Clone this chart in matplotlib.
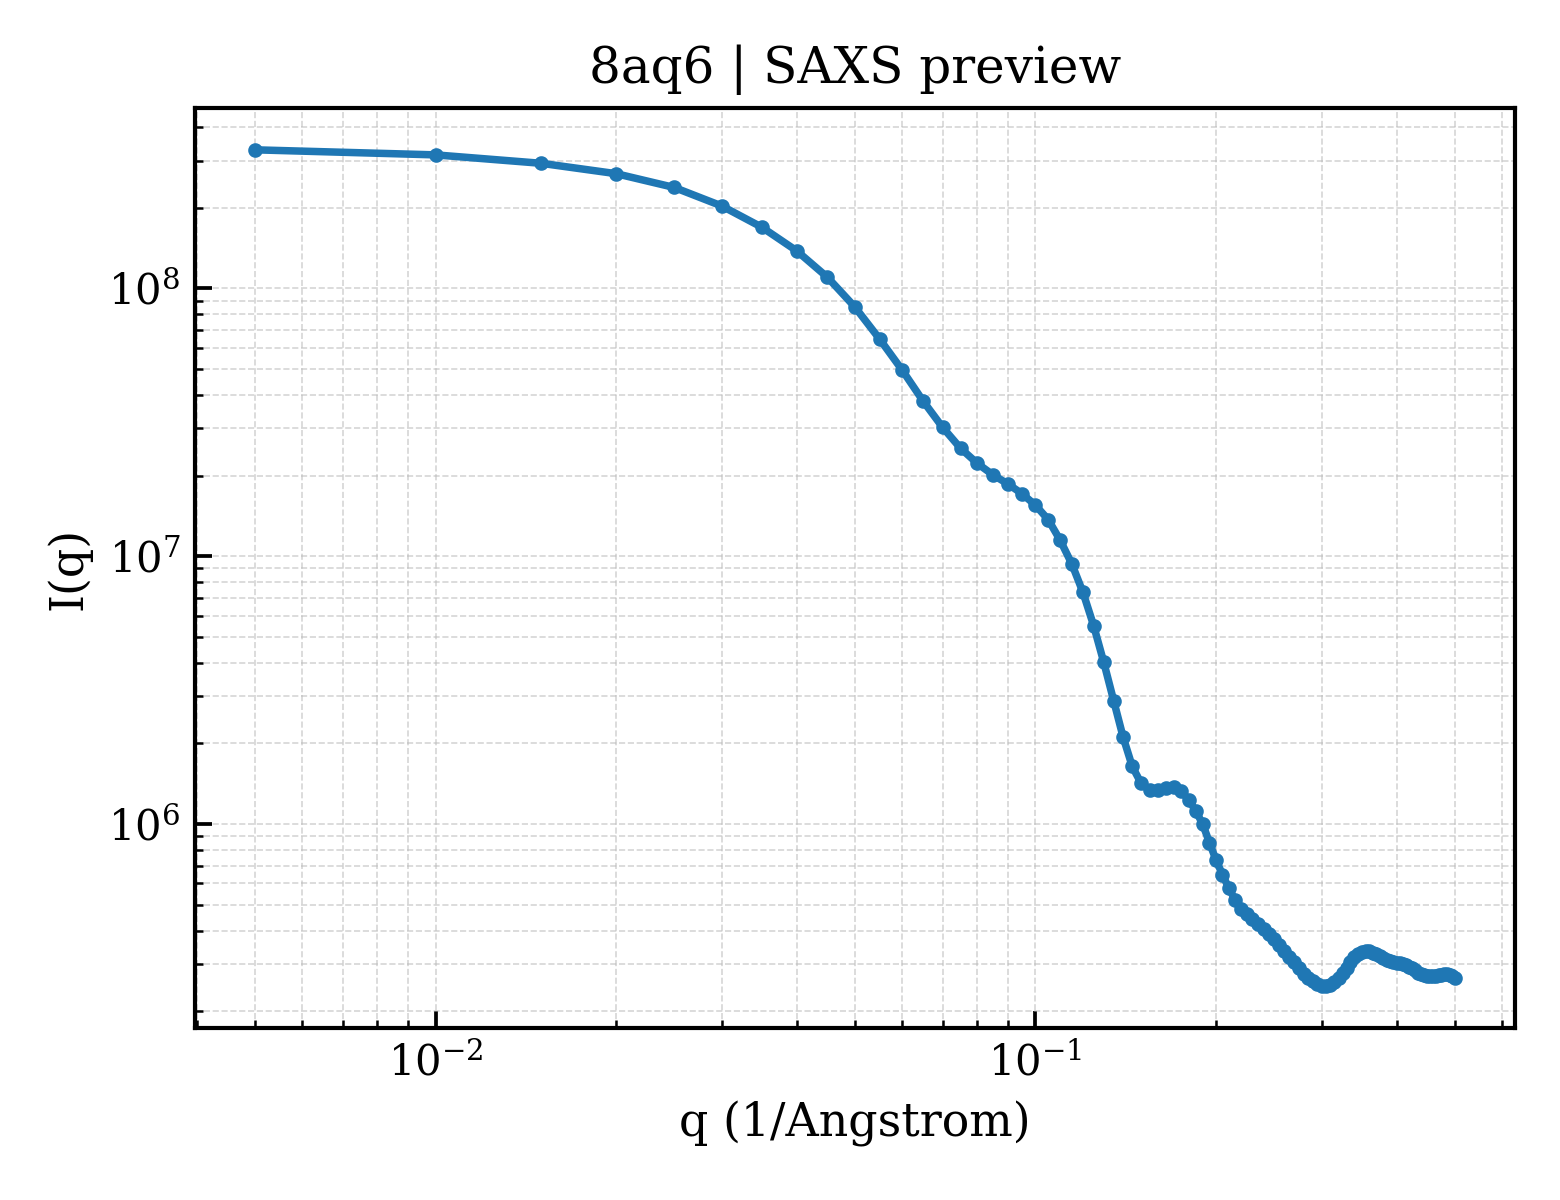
import numpy as np
import matplotlib
matplotlib.use("Agg")
import matplotlib.pyplot as plt

q = [round(0.005 * i, 3) for i in range(1, 101)]
intensity = [
    3.29e8, 3.15e8, 2.93e8, 2.68e8, 2.38e8, 2.03e8, 1.69e8, 1.38e8, 1.10e8, 8.52e7,
    6.46e7, 4.94e7, 3.79e7, 3.03e7, 2.53e7, 2.22e7, 2.01e7, 1.86e7, 1.71e7, 1.55e7,
    1.37e7, 1.145e7, 9.35e6, 7.33e6, 5.51e6, 4.01e6, 2.89e6, 2.11e6, 1.64e6, 1.42e6,
    1.34e6, 1.34e6, 1.36e6, 1.37e6, 1.33e6, 1.23e6, 1.12e6, 1.00e6, 8.52e5, 7.34e5,
    6.47e5, 5.77e5, 5.22e5, 4.82e5, 4.60e5, 4.42e5, 4.24e5, 4.07e5, 3.90e5, 3.72e5,
    3.54e5, 3.35e5, 3.18e5, 3.05e5, 2.89e5, 2.76e5, 2.66e5, 2.60e5, 2.53e5, 2.49e5,
    2.48e5, 2.51e5, 2.57e5, 2.66e5, 2.77e5, 2.90e5, 3.06e5, 3.18e5, 3.28e5, 3.32e5,
    3.35e5, 3.35e5, 3.31e5, 3.27e5, 3.22e5, 3.15e5, 3.11e5, 3.08e5, 3.06e5, 3.04e5,
    3.02e5, 2.99e5, 2.97e5, 2.93e5, 2.89e5, 2.84e5, 2.79e5, 2.76e5, 2.72e5, 2.71e5,
    2.70e5, 2.70e5, 2.71e5, 2.72e5, 2.74e5, 2.76e5, 2.756e5, 2.74e5, 2.70e5, 2.67e5,
]

title = "8aq6 | SAXS preview"
xlabel = "q (1/Angstrom)"
ylabel = "I(q)"

plt.rcParams['font.family'] = ['DejaVu Serif']
plt.rcParams['mathtext.fontset'] = 'dejavuserif'

fig = plt.figure(figsize=(5.2, 4.0), dpi=300)
ax = fig.add_axes([0.125, 0.1433, 0.846, 0.7667])
ax.plot(q, intensity, '-o', color='#1f77b4', lw=1.8, ms=2.5)
ax.set_xscale('log')
ax.set_yscale('log')
ax.grid(True, which='both', linestyle='--', linewidth=0.4, color='#bbbbbb', alpha=0.6)
ax.tick_params(which='both', direction='in', labelsize=10)
ax.tick_params(which='major', length=4, width=0.9)
ax.tick_params(which='minor', length=2, width=0.6)
for s in ax.spines.values():
    s.set_linewidth(1.0)
ax.set_title(title, fontsize=12)
ax.set_xlabel(xlabel, fontsize=11)
ax.set_ylabel(ylabel, fontsize=11)
fig.savefig("out.png", dpi=300)
